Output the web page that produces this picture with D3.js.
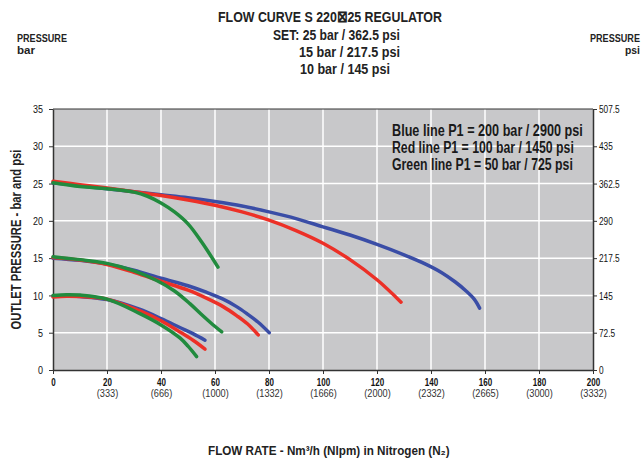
<!DOCTYPE html>
<html>
  <head>
    <meta charset="utf-8">
    <title></title>
    <style>
      body { margin: 0; background: #fff; }
      text { font-family: "Liberation Sans", Arial, sans-serif; }
    </style>
  </head>
  <body>
    <div id="chart"></div>
    <script src="https://cdnjs.cloudflare.com/ajax/libs/d3/7.8.5/d3.min.js"></script>
    <script>

      const width = 643;
      const height = 463;

      // flow in Nm3/h, pressure in bar
      const xTicks = [0, 20, 40, 60, 80, 100, 120, 140, 160, 180, 200];
      const xSubLabels = ['', '(333)', '(666)', '(1000)', '(1332)', '(1666)', '(2000)', '(2332)', '(2665)', '(3000)', '(3332)'];
      const yTicks = [0, 5, 10, 15, 20, 25, 30, 35];
      const psiLabels = ['0', '72.5', '145', '217.5', '290', '362.5', '435', '507.5'];

      // set 25 bar
      const blue25 = [[0, 25.1], [10, 24.7], [20, 24.3], [30, 23.9], [40, 23.5], [50, 23.1], [60, 22.6], [70, 22.0], [80, 21.2], [90, 20.3], [100, 19.2], [110, 18.1], [120, 16.85], [130, 15.45], [138, 14.2], [144, 13.05], [149, 11.8], [153, 10.6], [156, 9.5], [158, 8.3]];
      const red25 = [[0, 25.3], [10, 24.85], [20, 24.4], [30, 23.9], [40, 23.4], [50, 22.8], [60, 22.1], [70, 21.2], [80, 20.1], [90, 18.7], [100, 17.0], [110, 14.8], [120, 12.1], [128.9, 9.1]];
      const green25 = [[0, 25.1], [10, 24.6], [20, 24.3], [30, 23.85], [35, 23.3], [40, 22.4], [45, 21.2], [50, 19.6], [55, 17.2], [61.1, 13.8]];

      // set 15 bar
      const blue15 = [[0, 15.0], [10, 14.7], [20, 14.2], [30, 13.4], [40, 12.3], [50, 11.3], [57, 10.4], [63, 9.5], [68, 8.5], [72, 7.5], [76, 6.4], [80.1, 5.0]];
      const red15 = [[0, 15.1], [10, 14.75], [20, 14.15], [30, 13.1], [40, 11.9], [50, 10.7], [57, 9.6], [63, 8.5], [68, 7.3], [72, 6.2], [76, 4.7]];
      const green15 = [[0, 15.2], [10, 14.8], [20, 14.3], [30, 13.3], [38.4, 12.0], [45, 10.6], [50.7, 8.9], [54.8, 7.5], [58.5, 6.3], [62.5, 5.1]];

      // set 10 bar
      const blue10 = [[0, 9.9], [5, 9.95], [10, 9.85], [20, 9.45], [32, 8.15], [40, 6.9], [47, 5.7], [52, 4.85], [56.3, 4.0]];
      const red10 = [[0, 9.8], [5, 9.9], [10, 9.85], [20, 9.5], [32, 7.95], [40, 6.6], [47, 5.1], [52, 3.95], [56.3, 2.8]];
      const green10 = [[0, 10.0], [5, 10.1], [10, 10.05], [20, 9.5], [32, 7.6], [40, 6.05], [47, 4.3], [50, 3.2], [53.2, 1.8]];

      const blue = '#3a4da6', red = '#ec3027', green = '#218b3e';
      const curves = [
        { pts: blue25, color: blue }, { pts: red25, color: red }, { pts: green25, color: green },
        { pts: blue15, color: blue }, { pts: red15, color: red }, { pts: green15, color: green },
        { pts: blue10, color: blue }, { pts: red10, color: red }, { pts: green10, color: green }
      ];

      const legendLines = ['Blue line P1 = 200 bar / 2900 psi', 'Red line P1 = 100 bar / 1450 psi', 'Green line P1 = 50 bar / 725 psi'];
      const legendWidths = [191, 182, 181];

      const margin = { left: 53, right: 50, top: 109, bottom: 93 };

      const x = d3.scaleLinear().domain([0, 200]).range([margin.left, width - margin.right]);
      const y = d3.scaleLinear().domain([0, 35]).range([height - margin.bottom, margin.top]);
      const yPsi = d3.scaleLinear().domain([0, 507.5]).range(y.range());

      const svg = d3.select('#chart')
                    .append('svg')
                    .attr('width', width)
                    .attr('height', height);

      // squeeze tick text to look like a condensed face
      const squeeze = function(sel, factor) {
        sel.each(function() {
          const w = this.getComputedTextLength();
          d3.select(this).attr('textLength', w * factor).attr('lengthAdjust', 'spacingAndGlyphs');
        });
      };

      // bold label scaled horizontally to a given width
      const label = function(t, xx, yy, size, w, rot) {
        const el = svg.append('text')
          .attr('font-size', size)
          .attr('font-weight', 'bold')
          .attr('fill', '#222')
          .attr('text-anchor', rot ? 'middle' : 'start')
          .text(t);
        const nat = el.node().getComputedTextLength();
        el.attr('transform', `translate(${xx},${yy})${rot ? ' rotate(-90)' : ''} scale(${w / nat},1)`);
        return el;
      };

      // plot background
      svg.append('rect')
        .attr('x', x(0)).attr('y', y(35))
        .attr('width', x(200) - x(0)).attr('height', y(0) - y(35))
        .attr('fill', '#c8c8ca');

      // grid
      svg.append('g').selectAll('line').data(xTicks.slice(1, -1)).enter()
        .append('line')
        .attr('x1', d => x(d)).attr('x2', d => x(d))
        .attr('y1', y(0)).attr('y2', y(35))
        .attr('stroke', '#fff').attr('stroke-width', 1.5);
      svg.append('g').selectAll('line').data(yTicks.slice(1)).enter()
        .append('line')
        .attr('x1', x(0)).attr('x2', x(200))
        .attr('y1', d => y(d)).attr('y2', d => y(d))
        .attr('stroke', d => d === 35 ? '#333' : '#fff')
        .attr('stroke-width', d => d === 35 ? 1 : 1.5);

      // axes
      const left = svg.append('g')
        .attr('transform', `translate(${x(0)},0)`)
        .call(d3.axisLeft(y).tickValues(yTicks).tickSize(4).tickSizeOuter(0).tickPadding(6));
      const right = svg.append('g')
        .attr('transform', `translate(${x(200)},0)`)
        .call(d3.axisRight(yPsi).tickValues(psiLabels.map(Number)).tickFormat((d, i) => psiLabels[i]).tickSize(4).tickSizeOuter(0).tickPadding(2));
      const bottom = svg.append('g')
        .attr('transform', `translate(0,${y(0)})`)
        .call(d3.axisBottom(x).tickValues(xTicks).tickSize(4).tickSizeOuter(0).tickPadding(5));

      [left, right, bottom].forEach(g => {
        g.select('.domain').attr('stroke', '#333').attr('stroke-width', 1.5);
        g.selectAll('.tick line').attr('stroke', '#333');
        g.selectAll('.tick text')
          .attr('fill', '#111')
          .style('font-family', '"Liberation Sans", Arial, sans-serif')
          .style('font-size', '11.5px');
      });
      bottom.selectAll('.tick text').style('font-weight', 'bold').style('font-size', '10px');
      squeeze(left.selectAll('.tick text'), 0.78);
      squeeze(right.selectAll('.tick text'), 0.72);
      squeeze(bottom.selectAll('.tick text'), 0.8);

      const sub = bottom.selectAll('.tick').append('text')
        .attr('y', 20)
        .attr('dy', '0.71em')
        .attr('text-anchor', 'middle')
        .attr('fill', '#333')
        .style('font-size', '10px')
        .text((d, i) => xSubLabels[i]);
      squeeze(sub.filter((d, i) => i > 0), 0.92);

      // curves
      const line = d3.line()
        .x(d => x(d[0]))
        .y(d => y(d[1]))
        .curve(d3.curveCatmullRom.alpha(0.5));

      svg.append('g').selectAll('path').data(curves).enter()
        .append('path')
        .attr('d', d => line(d.pts))
        .attr('fill', 'none')
        .attr('stroke', d => d.color)
        .attr('stroke-width', 3.5)
        .attr('stroke-linecap', 'round');

      // legend in plot
      legendLines.forEach((t, i) => label(t, 392, 136 + i * 17, 16, legendWidths[i]).attr('fill', '#1a1a1a'));

      // titles
      label('FLOW CURVE S 220\u22A025 REGULATOR', 218, 22, 15.5, 224);
      label('SET: 25 bar / 362.5 psi', 273, 40, 15.5, 127);
      label('15 bar / 217.5 psi', 299, 57, 15.5, 101);
      label('10 bar / 145 psi', 300, 74, 15.5, 90);

      label('PRESSURE', 17, 42, 11, 50);
      label('bar', 17, 54, 11, 18);
      label('PRESSURE', 590, 42, 11, 50);
      label('psi', 625, 54, 11, 15);

      label('FLOW RATE - Nm\u00B3/h (Nlpm) in Nitrogen (N\u2082)', 208, 455, 13.5, 242);

      label('OUTLET PRESSURE - bar and psi', 21, (y(0) + y(35)) / 2, 14, 180, true);

    </script>
  </body>
</html>
